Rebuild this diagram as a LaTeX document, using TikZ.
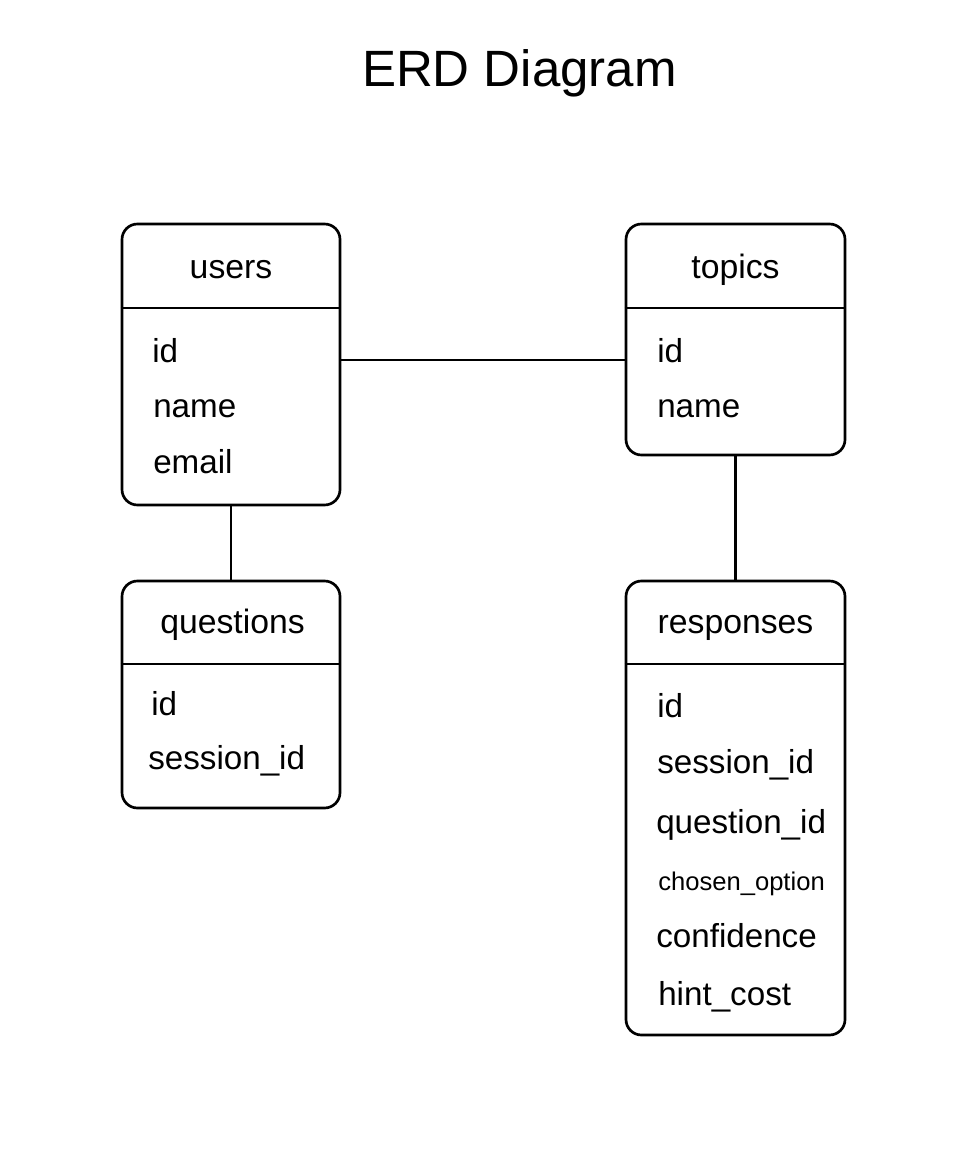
\documentclass[tikz,border=0pt]{standalone}
\usepackage{fontspec}
\setmainfont{Liberation Sans}
\usetikzlibrary{fit}

\tikzset{
	tbl/.style={draw, line width=1.9pt, rounded corners=11pt, inner sep=0pt},
	head/.style={anchor=base, inner sep=0pt, font=\fontsize{24}{29}\selectfont},
	field/.style={anchor=base west, inner sep=0pt, font=\fontsize{23.6}{29}\selectfont},
	link/.style={line width=1.9pt}
}

\begin{document}
\begin{tikzpicture}[x=0.025cm, y=-0.025cm]
		\useasboundingbox (0,0) rectangle (962,1154);

		\node[anchor=base, inner sep=0pt, font=\fontsize{36.3}{44}\selectfont] at (519.5,87) (title) {ERD Diagram};

		% tables
		\node[tbl, fit={(122,224) (340,505)}] (users) {};
		\node[tbl, fit={(626,224) (845,455)}] (topics) {};
		\node[tbl, fit={(122,581) (340,808)}] (questions) {};
		\node[tbl, fit={(626,581) (845,1035)}] (responses) {};

		\draw [link](users.west |- 0,308) -- (users.east |- 0,308);
		\draw [link](topics.west |- 0,308) -- (topics.east |- 0,308);
		\draw [link](questions.west |- 0,664) -- (questions.east |- 0,664);
		\draw [link](responses.west |- 0,664) -- (responses.east |- 0,664);

		\node[head] at (231,279) (usershead) {users};
		\node[head] at (735.5,279) (topicshead) {topics};
		\node[head] at (232.5,633) (questionshead) {questions};
		\node[head] at (735.5,633) (responseshead) {responses};

		\node[field] at (152,363) (uid) {id};
		\node[field] at (153,417) (uname) {name};
		\node[field] at (153,473) (uemail) {email};

		\node[field] at (657,363) (tid) {id};
		\node[field] at (657,417) (tname) {name};

		\node[field] at (151,715) (qid) {id};
		\node[field] at (148,769) (qsession) {session\_id};

		\node[field] at (657,717) (rid) {id};
		\node[field] at (657,773) (rsession) {session\_id};
		\node[field] at (656,833) (rquestion) {question\_id};
		\node[field, font=\fontsize{18.2}{22}\selectfont] at (658,890) (roption) {chosen\_option};
		\node[field] at (656,947) (rconf) {confidence};
		\node[field] at (658,1005) (rhint) {hint\_cost};

		% relations
		\coordinate (mid) at (483,360);
		\draw [link](users.east |- mid) -- (topics.west |- mid);
		\draw [link](users.south) -- (questions.north);
		\draw [link](topics.south) -- (responses.north);

	\end{tikzpicture}
\end{document}
